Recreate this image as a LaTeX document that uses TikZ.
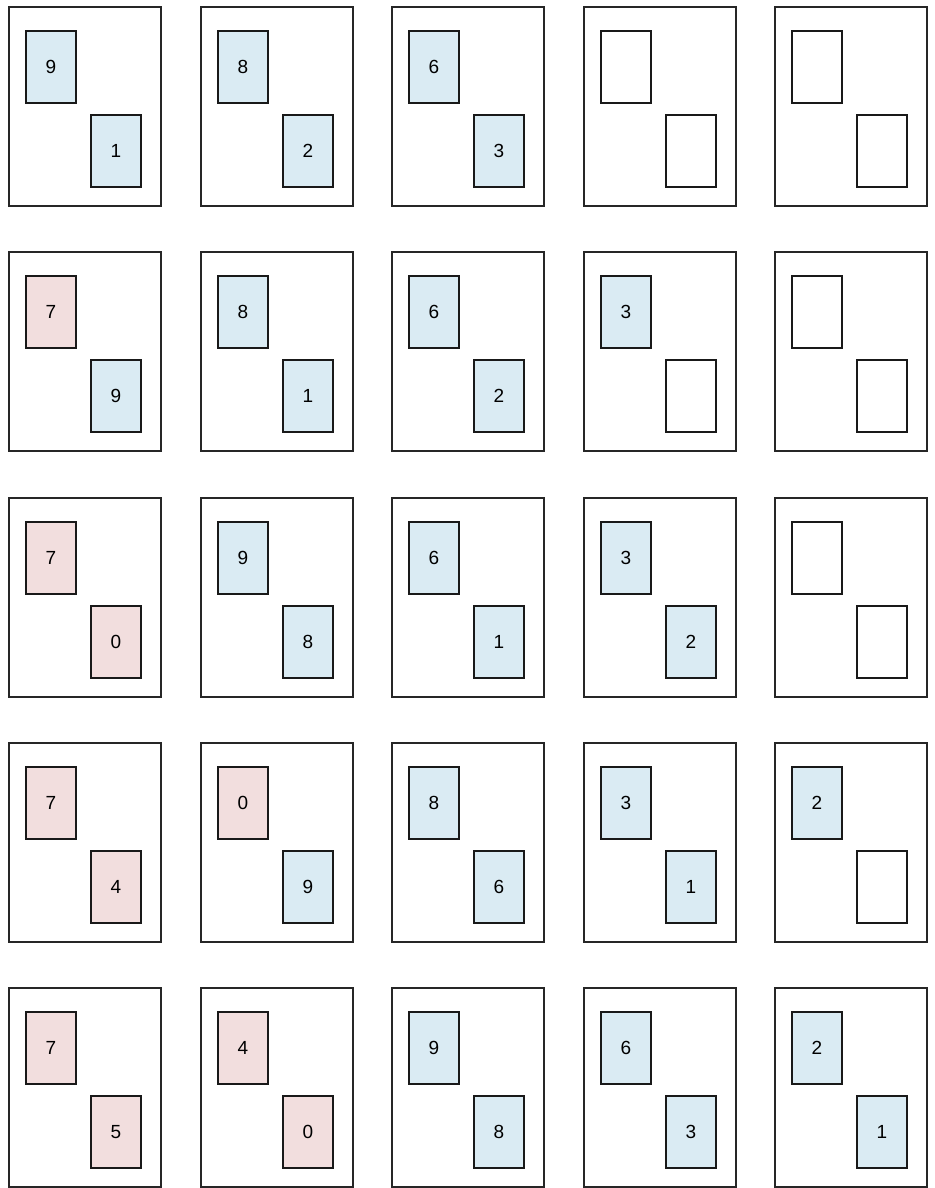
\documentclass[tikz,border=0pt]{standalone}
\usepackage{fontspec}
\setmainfont{Liberation Sans}
\usepackage{tikz}
\usetikzlibrary{positioning}
\definecolor{cardblue}{HTML}{DAEBF3}
\definecolor{cardpink}{HTML}{F2DEDE}

\begin{document}
\begin{tikzpicture}[
  x=1pt, y=-1pt,
  every node/.style={font=\fontsize{19}{22}\selectfont},
  frame/.style={draw=black!85, line width=2pt, minimum width=152pt,
    minimum height=199pt, inner sep=0pt, anchor=north west},
  card/.style={draw=black!90, line width=2pt, minimum width=50pt,
    minimum height=72pt, inner sep=0pt},
  b/.style={card, fill=cardblue},
  p/.style={card, fill=cardpink},
  e/.style={card, fill=white}
]
  \useasboundingbox (0,0) rectangle (934,1188);

  % row/column/top card/bottom card
  \foreach \r/\c/\sa/\la/\sb/\lb in {
      1/1/b/9/b/1, 1/2/b/8/b/2, 1/3/b/6/b/3, 1/4/e/{}/e/{}, 1/5/e/{}/e/{},
      2/1/p/7/b/9, 2/2/b/8/b/1, 2/3/b/6/b/2, 2/4/b/3/e/{}, 2/5/e/{}/e/{},
      3/1/p/7/p/0, 3/2/b/9/b/8, 3/3/b/6/b/1, 3/4/b/3/b/2, 3/5/e/{}/e/{},
      4/1/p/7/p/4, 4/2/p/0/b/9, 4/3/b/8/b/6, 4/4/b/3/b/1, 4/5/b/2/e/{},
      5/1/p/7/p/5, 5/2/p/4/p/0, 5/3/b/9/b/8, 5/4/b/6/b/3, 5/5/b/2/b/1} {
    \node[frame] (box-\r-\c) at ({round(8+191.5*(\c-1))},{round(6+245.25*(\r-1))}) {};
    \node[\sa, below right=24pt and 17pt of box-\r-\c.north west] (top-\r-\c) {\la};
    \node[\sb, below right=10pt and 13pt of top-\r-\c.south east] (bot-\r-\c) {\lb};
  }
\end{tikzpicture}
\end{document}
